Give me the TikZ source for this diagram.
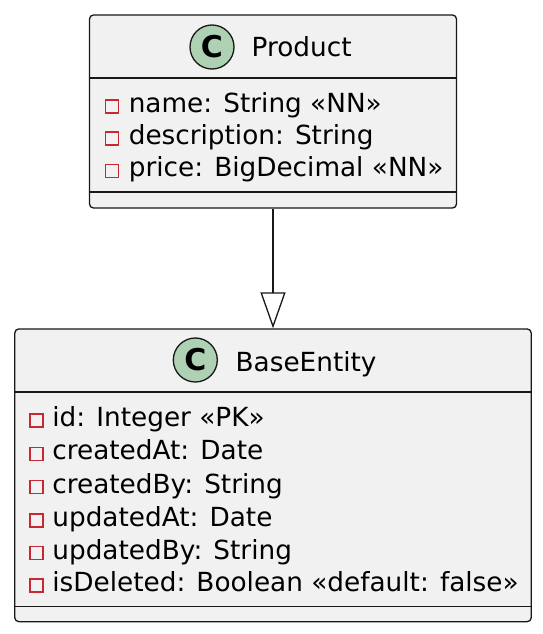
\documentclass[tikz,border=0pt]{standalone}
\usepackage{fontspec}
\setmainfont{DejaVu Sans}
\usetikzlibrary{arrows.meta}
\definecolor{boxfill}{HTML}{F1F1F1}
\definecolor{boxline}{HTML}{181818}
\definecolor{iconfill}{HTML}{ADD1B2}
\definecolor{privred}{HTML}{C82930}
\begin{document}
\begin{tikzpicture}[x=1pt, y=-1pt, >=stealth,
  every node/.style={font=\fontsize{26.3}{32}\selectfont, inner sep=0pt},
  classbox/.style={draw=boxline, fill=boxfill, line width=1.3pt, rounded corners=4pt},
  classicon/.style={circle, draw=boxline, fill=iconfill, line width=1.3pt, minimum size=44pt, font=\fontsize{30}{32}\selectfont\bfseries},
  field/.style={anchor=west, text height=19.8pt, text depth=6.6pt},
  private/.style={rectangle, draw=privred, line width=1.3pt, minimum size=13pt}]
\fill[white] (0,0) rectangle (543,634);
\useasboundingbox (0,0) rectangle (543,634);
% class boxes
\node[classbox, minimum width=367pt, minimum height=193pt] (Product) at (273,111.5) {};
\node[classbox, minimum width=516.4pt, minimum height=292.7pt] (BaseEntity) at (273,475.3) {};
% separators
\draw[boxline, line width=1.3pt] (Product.west |- 0,78) -- (Product.east |- 0,78);
\draw[boxline, line width=1.3pt] (Product.west |- 0,192) -- (Product.east |- 0,192);
\draw[boxline, line width=1.3pt] (BaseEntity.west |- 0,392) -- (BaseEntity.east |- 0,392);
\draw[boxline, line width=1.3pt] (BaseEntity.west |- 0,606.7) -- (BaseEntity.east |- 0,606.7);
% headers
\node[classicon] (pIcon) at (212,47) {C};
\node[field] (pName) at (251.5,50.3) {Product};
\node[classicon] (bIcon) at (195.3,360) {C};
\node[field] (bName) at (235.5,365) {BaseEntity};
% Product fields
\node[private] (pm1) at (111.7,106.5) {};
\node[private] (pm2) at (111.7,138.5) {};
\node[private] (pm3) at (111.7,170.7) {};
\node[field] (pf1) at (128.6,106) {name: String «NN»};
\node[field] (pf2) at (128.6,138) {description: String};
\node[field] (pf3) at (128.6,170.3) {price: BigDecimal «NN»};
% BaseEntity fields
\node[private] (bm1) at (36.4,420.5) {};
\node[private] (bm2) at (36.4,453.8) {};
\node[private] (bm3) at (36.4,487.1) {};
\node[private] (bm4) at (36.4,520.4) {};
\node[private] (bm5) at (36.4,553.2) {};
\node[private] (bm6) at (36.4,585.5) {};
\node[field] (bf1) at (52.2,420) {id: Integer «PK»};
\node[field] (bf2) at (52.2,453.3) {createdAt: Date};
\node[field] (bf3) at (52.2,486.6) {createdBy: String};
\node[field] (bf4) at (52.2,519.9) {updatedAt: Date};
\node[field] (bf5) at (52.2,552.7) {updatedBy: String};
\node[field] (bf6) at (52.2,585) {isDeleted: Boolean «default: false»};
% inheritance
\draw[-{Triangle[open, length=36pt, width=25pt]}, boxline, line width=1.3pt] (Product.south) -- (BaseEntity.north);
\end{tikzpicture}
\end{document}
